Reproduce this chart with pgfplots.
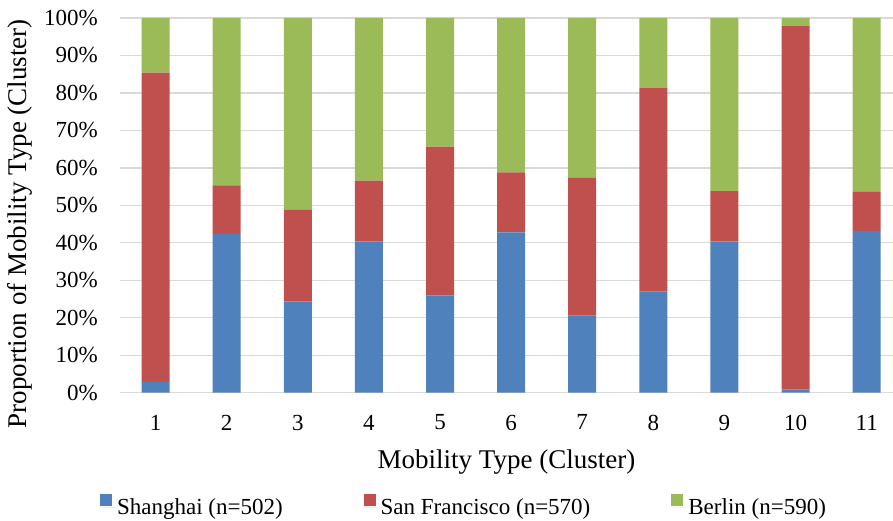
\documentclass[border=0pt]{standalone}
\usepackage{pgfplots}
\pgfplotsset{compat=1.18}
\usepackage{pgfplotstable}
\usepackage{fontspec}
\setmainfont{Liberation Serif}
\definecolor{cSH}{HTML}{4F81BD}
\definecolor{cSF}{HTML}{C0504D}
\definecolor{cBE}{HTML}{9BBB59}
\definecolor{cGrid}{HTML}{D9D9D9}
\pgfplotstableread{
x  SH    SF    BE
1  2.9   82.5  14.6
2  42.3  13.0  44.7
3  24.4  24.4  51.2
4  40.4  16.2  43.4
5  26.0  39.7  34.3
6  42.8  16.0  41.2
7  20.6  36.7  42.7
8  27.0  54.4  18.6
9  40.4  13.4  46.2
10 0.9   96.9  2.2
11 43.1  10.5  46.4
}\datatable
\begin{document}
\begin{tikzpicture}
\begin{axis}[
  scale only axis,
  width=773pt, height=374.7pt,
  ybar stacked,
  bar width=28pt,
  xmin=0.5, xmax=11.37,
  ymin=0, ymax=100,
  xtick={1,...,11},
  xticklabels={1,2,3,4,5,6,7,8,9,10,11},
  ytick={0,10,...,100},
  yticklabels={0\%,10\%,20\%,30\%,40\%,50\%,60\%,70\%,80\%,90\%,100\%},
  major tick length=0pt,
  axis line style={draw=none},
  ymajorgrids,
  grid style={cGrid, line width=1.3pt},
  tick label style={font=\fontsize{23}{27}\selectfont, text=black},
  yticklabel style={anchor=east, inner sep=0pt, xshift=-22pt},
  xticklabel style={anchor=north, inner sep=0pt, yshift=-22pt},
  xlabel={Mobility Type (Cluster)},
  ylabel={Proportion of Mobility Type (Cluster)},
  label style={font=\fontsize{27}{32}\selectfont},
  xlabel style={at={(axis description cs:0.5,0)}, anchor=center, yshift=-69pt},
  ylabel style={at={(axis description cs:-0.129,0.451)}, anchor=center},
  legend columns=3,
  legend style={at={(axis description cs:0.445,-0.303)}, anchor=center,
    draw=none, fill=none, font=\fontsize{23}{27}\selectfont,
    /tikz/every even column/.append style={column sep=79pt},
    inner sep=0pt},
  legend image code/.code={\fill[#1] (0pt,1pt) rectangle (12pt,13pt); \path (0pt,0pt) -- (15pt,0pt);},
  clip=false,
]
\addplot[fill=cSH, draw=none] table[x=x, y=SH] {\datatable};
\addplot[fill=cSF, draw=none] table[x=x, y=SF] {\datatable};
\addplot[fill=cBE, draw=none] table[x=x, y=BE] {\datatable};
\legend{Shanghai (n=502), San Francisco (n=570), Berlin (n=590)}
\coordinate (bl) at (rel axis cs:0,0);
\coordinate (tr) at (rel axis cs:1,1);
\end{axis}
\pgfresetboundingbox
\path[use as bounding box] ([xshift=-120pt,yshift=-128pt]bl) rectangle ([yshift=18pt]tr);
\end{tikzpicture}
\end{document}
